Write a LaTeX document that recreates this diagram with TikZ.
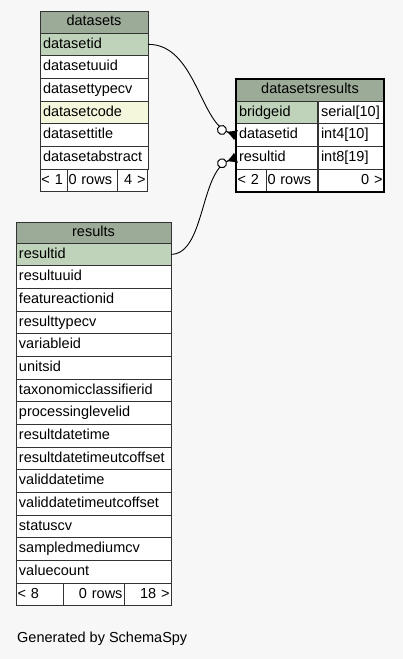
\documentclass[tikz,border=0pt]{standalone}
\usepackage{fontspec}
\setmainfont{Liberation Sans}
\usetikzlibrary{arrows.meta,calc}
\definecolor{hdrgreen}{HTML}{9CAB97}
\definecolor{keygreen}{HTML}{BFD2BA}
\definecolor{idxyellow}{HTML}{F5F7DC}
\definecolor{bggray}{HTML}{F7F7F7}
\definecolor{lineg}{HTML}{333333}

\tikzset{
  cell/.style={draw=lineg, line width=0.9pt, fill=white, anchor=north west,
    minimum height=22.7pt, inner ysep=0pt, inner xsep=3pt, outer sep=0pt,
    text height=10.5pt, text depth=3pt, align=left},
  hdr/.style={cell, fill=hdrgreen, align=center, minimum height=22pt},
  keyrow/.style={cell, fill=keygreen},
  link/.style={line width=0.9pt,
    -{Circle[open,fill=white,length=10pt,width=10pt,line width=1pt] Latex[reversed,length=10pt,width=11pt]}}
}

\begin{document}
\begin{tikzpicture}[x=1pt,y=-1pt,font=\fontsize{14.5}{17}\selectfont]
  \useasboundingbox (0,0) rectangle (403,659);
  \fill[bggray] (0,0) rectangle (403,659);

  % table datasets
  \node[hdr, text width=102pt] (ds-head) at (40,11) {datasets};
  \node[keyrow, text width=102pt] (ds-datasetid) at (40,33) {datasetid};
  \node[cell, text width=102pt] (ds-datasetuuid) at (40,55.7) {datasetuuid};
  \node[cell, text width=102pt] (ds-datasettypecv) at (40,78.4) {datasettypecv};
  \node[cell, fill=idxyellow, text width=102pt] (ds-datasetcode) at (40,101.1) {datasetcode};
  \node[cell, text width=102pt] (ds-datasettitle) at (40,123.8) {datasettitle};
  \node[cell, text width=102pt] (ds-datasetabstract) at (40,146.5) {datasetabstract};
  \node[cell, text width=24pt, inner xsep=1.5pt] (ds-foot1) at (40,169.2) {< 1};
  \node[cell, text width=47pt, inner xsep=1.5pt] (ds-foot2) at (67,169.2) {0 rows};
  \node[cell, text width=27pt, inner xsep=1.5pt, align=right] (ds-foot3) at (117,169.2) {4 >};

  % table datasetsresults
  \node[hdr, text width=142pt] (dsr-head) at (236,79) {datasetsresults};
  \node[keyrow, text width=75pt] (dsr-bridgeid) at (236,101) {bridgeid};
  \node[cell, text width=60pt] (dsr-bridgeid-t) at (318,101) {serial[10]};
  \node[cell, text width=75pt] (dsr-datasetid) at (236,123.7) {datasetid};
  \node[cell, text width=60pt] (dsr-datasetid-t) at (318,123.7) {int4[10]};
  \node[cell, text width=75pt] (dsr-resultid) at (236,146.4) {resultid};
  \node[cell, text width=60pt] (dsr-resultid-t) at (318,146.4) {int8[19]};
  \node[cell, text width=27pt, inner xsep=1.5pt] (dsr-foot1) at (236,169.1) {< 2};
  \node[cell, text width=48pt, inner xsep=1.5pt] (dsr-foot2) at (266,169.1) {0 rows};
  \node[cell, text width=63pt, inner xsep=1.5pt, align=right] (dsr-foot3) at (318,169.1) {0 >};
  \draw[line width=2.6pt] (dsr-head.north west) rectangle (dsr-foot3.south east);

  % table results
  \node[hdr, text width=149pt] (res-head) at (16,222) {results};
  \node[keyrow, text width=149pt] (res-resultid) at (16,243) {resultid};
  \foreach \col [count=\i] in {resultuuid,featureactionid,resulttypecv,variableid,
      unitsid,taxonomicclassifierid,processinglevelid,resultdatetime,
      resultdatetimeutcoffset,validdatetime,validdatetimeutcoffset,statuscv,
      sampledmediumcv,valuecount}
    \node[cell, text width=149pt] (res-\col) at (16,{243+22.67*\i}) {\col};
  \node[cell, text width=44pt, inner xsep=1.5pt] (res-foot1) at (16,583) {< 8};
  \node[cell, text width=58pt, inner xsep=1.5pt, align=right] (res-foot2) at (63,583) {0 rows};
  \node[cell, text width=44pt, inner xsep=1.5pt, align=right] (res-foot3) at (124,583) {18 >};

  % relations
  \draw[link] (ds-datasetid.east) .. controls (195,44) and (200,122) .. (dsr-datasetid.west);
  \draw[link] (res-resultid.east) .. controls (205,254) and (200,172) .. (dsr-resultid.west);

  \node[anchor=west, inner sep=0pt] (gen) at (17,639) {Generated by SchemaSpy};
\end{tikzpicture}
\end{document}
